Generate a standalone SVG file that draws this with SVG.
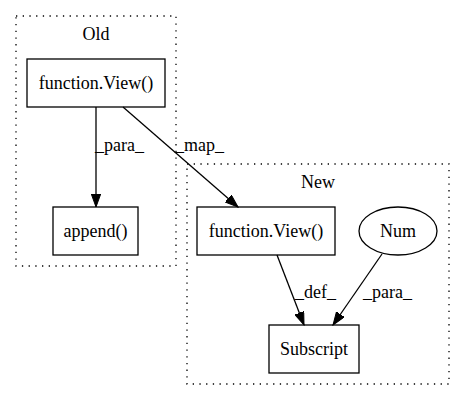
<svg xmlns="http://www.w3.org/2000/svg" width="465" height="400" viewBox="0 0 465 400">
<style>
text{font-family:"Liberation Serif","Times New Roman",serif;font-size:18px;fill:#000}
.c{text-anchor:middle}
.cl{fill:none;stroke:#000;stroke-width:1.3;stroke-dasharray:1.3,5.4}
.n{fill:none;stroke:#000;stroke-width:1.3}
.e{fill:none;stroke:#000;stroke-width:1.3;marker-end:url(#ah)}
</style>
<defs>
<marker id="ah" markerUnits="userSpaceOnUse" markerWidth="14" markerHeight="10" refX="13" refY="4.7" orient="auto">
<path d="M0,0 L13,4.7 L0,9.4 z" fill="#000" stroke="#000" stroke-width="1"/>
</marker>
</defs>
<rect width="465" height="400" fill="#fff"/>
<g id="cluster_old">
<rect class="cl" x="16" y="16" width="160" height="250"/>
<text class="c" x="96" y="40">Old</text>
</g>
<g id="cluster_new">
<rect class="cl" x="187" y="164" width="262" height="220"/>
<text class="c" x="318" y="188">New</text>
</g>
<g id="connectors">
<line class="e" x1="96" y1="107" x2="96" y2="207"/>
<text x="95" y="151">_para_</text>
<line class="e" x1="123" y1="107" x2="238" y2="207"/>
<text x="175" y="151">_map_</text>
<line class="e" x1="277" y1="255" x2="304" y2="325"/>
<text x="295" y="298">_def_</text>
<line class="e" x1="382" y1="254" x2="333" y2="325"/>
<text x="363" y="298">_para_</text>
</g>
<g id="old_view">
<rect class="n" x="27" y="59" width="138" height="48"/>
<text class="c" x="96" y="89">function.View()</text>
</g>
<g id="append">
<rect class="n" x="53" y="207" width="85" height="48"/>
<text class="c" x="95.5" y="237">append()</text>
</g>
<g id="new_view">
<rect class="n" x="197" y="207" width="138" height="48"/>
<text class="c" x="266" y="237">function.View()</text>
</g>
<g id="num">
<ellipse class="n" cx="398" cy="231" rx="39" ry="24"/>
<text class="c" x="398" y="237">Num</text>
</g>
<g id="subscript">
<rect class="n" x="269" y="325" width="90" height="48"/>
<text class="c" x="314" y="355">Subscript</text>
</g>
</svg>
